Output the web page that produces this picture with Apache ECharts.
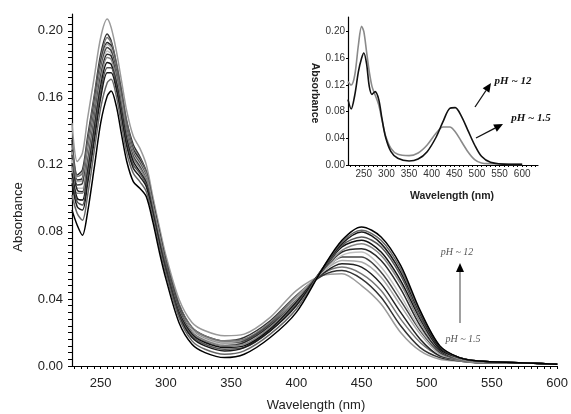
<!DOCTYPE html>
<html><head><meta charset="utf-8">
<script src="https://cdn.jsdelivr.net/npm/echarts@6/dist/echarts.min.js"></script>
<style>html,body{margin:0;padding:0;background:#fff}#c{width:571px;height:414px}</style>
</head><body><div id="c"></div>
<script>
// ---------- main chart data (wavelength in nm, absorbance) ----------
const wavelengths = [228,232,236,240,245,250,255,258,262,266,270,275,280,285,290,295,300,310,320,330,345,360,380,400,420,435,450,465,480,495,510,525,540,570,600];
const curve01 = [.145,.122,.127,.148,.172,.196,.207,.202,.188,.170,.152,.137,.130,.120,.101,.083,.066,.040,.026,.021,.018,.019,.029,.045,.054,.055,.048,.037,.020,.009,.004,.003,.002,.002,.001];
const curve02 = [.135,.114,.117,.137,.161,.186,.198,.194,.181,.164,.146,.132,.125,.116,.098,.080,.063,.037,.023,.018,.015,.017,.027,.042,.054,.057,.052,.041,.024,.011,.005,.003,.002,.002,.001];
const curve03 = [.132,.113,.115,.134,.159,.183,.196,.193,.180,.162,.145,.130,.124,.115,.097,.079,.063,.037,.023,.018,.015,.016,.026,.042,.055,.059,.055,.045,.028,.014,.006,.003,.002,.002,.001];
const curve04 = [.129,.111,.112,.131,.156,.181,.193,.191,.178,.160,.143,.129,.123,.114,.097,.079,.062,.036,.022,.017,.014,.015,.025,.041,.055,.061,.059,.049,.032,.016,.006,.004,.002,.002,.001];
const curve05 = [.128,.110,.111,.130,.154,.179,.192,.190,.177,.159,.142,.128,.122,.114,.096,.078,.061,.035,.022,.017,.014,.015,.025,.041,.056,.063,.062,.053,.036,.019,.007,.004,.002,.002,.001];
const curve06 = [.126,.108,.109,.127,.152,.177,.190,.188,.176,.158,.141,.127,.121,.113,.095,.077,.061,.035,.021,.016,.013,.015,.025,.040,.056,.065,.065,.056,.039,.021,.008,.004,.002,.002,.001];
const curve07 = [.123,.106,.106,.125,.149,.175,.188,.186,.174,.157,.139,.126,.120,.112,.095,.077,.060,.034,.021,.016,.013,.014,.024,.040,.056,.066,.068,.059,.042,.022,.009,.004,.002,.002,.001];
const curve08 = [.121,.105,.104,.122,.147,.173,.186,.185,.173,.155,.138,.125,.119,.111,.094,.076,.060,.034,.020,.015,.012,.014,.024,.039,.057,.068,.070,.063,.046,.024,.009,.004,.002,.002,.001];
const curve09 = [.119,.103,.103,.120,.145,.171,.184,.183,.172,.154,.137,.124,.118,.111,.094,.076,.059,.033,.020,.015,.012,.013,.023,.039,.057,.069,.073,.066,.049,.026,.010,.004,.002,.002,.001];
const curve10 = [.115,.100,.099,.116,.141,.167,.181,.180,.169,.152,.135,.122,.116,.109,.092,.074,.058,.032,.019,.014,.011,.012,.022,.038,.057,.071,.075,.068,.051,.028,.010,.005,.003,.002,.001];
const curve11 = [.112,.098,.096,.113,.138,.164,.178,.178,.167,.150,.133,.120,.115,.108,.092,.074,.057,.031,.018,.013,.010,.011,.021,.037,.057,.072,.077,.071,.054,.029,.011,.005,.003,.002,.001];
const curve12 = [.109,.095,.093,.109,.134,.160,.175,.175,.165,.148,.131,.118,.113,.107,.091,.073,.056,.030,.017,.012,.009,.011,.021,.036,.058,.073,.080,.073,.056,.031,.011,.005,.003,.002,.001];
const curve13 = [.102,.091,.087,.102,.128,.154,.169,.171,.161,.144,.127,.115,.110,.104,.089,.071,.055,.029,.015,.010,.007,.009,.019,.034,.058,.074,.081,.075,.058,.032,.012,.005,.003,.002,.001];
const curve14 = [.093,.084,.078,.092,.118,.145,.161,.164,.155,.138,.122,.110,.106,.101,.086,.068,.052,.026,.013,.008,.005,.007,.017,.032,.058,.075,.083,.077,.060,.033,.012,.005,.003,.002,.001];
const mainCurves = [curve01,curve02,curve03,curve04,curve05,curve06,curve07,curve08,curve09,curve10,curve11,curve12,curve13,curve14];
const lineColors = ['#9a9a9a','#333333','#777777','#222222','#aaaaaa','#444444','#c0c0c0','#2a2a2a','#888888','#111111','#555555','#1a1a1a','#666666','#000000'];

// ---------- inset data ----------
const insetWave = [215,222,230,238,245,250,256,262,268,275,283,290,298,310,325,350,370,390,410,425,440,452,465,480,495,510,530,570,600];
const insetAcid = [.125,.120,.135,.180,.208,.200,.170,.140,.118,.105,.090,.068,.044,.025,.016,.014,.018,.030,.048,.057,.057,.050,.036,.020,.008,.003,.002,.001,.001];
const insetBase = [.098,.084,.105,.140,.160,.168,.152,.118,.106,.110,.098,.070,.042,.020,.010,.006,.009,.020,.042,.065,.085,.086,.074,.052,.030,.013,.004,.001,.001];

// ---------- ticks ----------
const xTickLabels = [250,300,350,400,450,500,550,600];
const yTickLabels = [0,0.04,0.08,0.12,0.16,0.20];
const mainXMinor = []; for (let v = 230; v <= 600; v += 5) mainXMinor.push(v);
const mainYMinor = []; for (let i = 0; i <= 52; i++) mainYMinor.push(+(i*0.004).toFixed(3));
const insetXMinor = []; for (let v = 220; v <= 630; v += 10) insetXMinor.push(v);

const chart = echarts.init(document.getElementById('c'), null, {renderer:'canvas'});
const FONT = 'Liberation Sans, Arial, sans-serif';
const SERIF = 'Liberation Serif, Times New Roman, serif';

const series = mainCurves.map((c, k) => ({
  type:'line', xAxisIndex:0, yAxisIndex:0, showSymbol:false, smooth:0.3,
  data: wavelengths.map((w,i)=>[w,c[i]]),
  lineStyle:{color:lineColors[k], width:1.5}, z: 2, silent:true
}));
series.push({type:'line', xAxisIndex:1, yAxisIndex:1, showSymbol:false, smooth:0.3,
  data: insetWave.map((w,i)=>[w,insetAcid[i]]), lineStyle:{color:'#8a8a8a', width:1.6}});
series.push({type:'line', xAxisIndex:1, yAxisIndex:1, showSymbol:false, smooth:0.3,
  data: insetWave.map((w,i)=>[w,insetBase[i]]), lineStyle:{color:'#111', width:1.6}});

function arrow(x1,y1,x2,y2,shaft,head,len,w,lw){
  const a = Math.atan2(y2-y1,x2-x1);
  const bx = x2-len*Math.cos(a), by = y2-len*Math.sin(a);
  const px = -Math.sin(a)*w/2, py = Math.cos(a)*w/2;
  return [
    {type:'line', shape:{x1:x1,y1:y1,x2:bx,y2:by}, style:{stroke:shaft, lineWidth:lw}},
    {type:'polygon', shape:{points:[[x2,y2],[bx+px,by+py],[bx-px,by-py]]}, style:{fill:head}}
  ];
}

const graphics = [
  {type:'text', x:18, y:217, rotation:Math.PI/2, style:{text:'Absorbance', font:'13px '+FONT, fill:'#222', align:'center', verticalAlign:'middle'}},
  {type:'text', x:316, y:405, style:{text:'Wavelength (nm)', font:'13px '+FONT, fill:'#222', align:'center', verticalAlign:'middle'}},
  {type:'text', x:315, y:93, rotation:-Math.PI/2, style:{text:'Absorbance', font:'bold 10.5px '+FONT, fill:'#222', align:'center', verticalAlign:'middle'}},
  {type:'text', x:452, y:196, style:{text:'Wavelength (nm)', font:'bold 10.5px '+FONT, fill:'#222', align:'center', verticalAlign:'middle'}},
  {type:'text', x:457, y:252, style:{text:'pH ~ 12', font:'italic 10px '+SERIF, fill:'#555', align:'center', verticalAlign:'middle'}},
  {type:'text', x:463, y:339, style:{text:'pH ~ 1.5', font:'italic 10px '+SERIF, fill:'#555', align:'center', verticalAlign:'middle'}},
  {type:'text', x:513, y:81, style:{text:'pH ~ 12', font:'italic bold 11px '+SERIF, fill:'#111', align:'center', verticalAlign:'middle'}},
  {type:'text', x:531, y:118, style:{text:'pH ~ 1.5', font:'italic bold 11px '+SERIF, fill:'#111', align:'center', verticalAlign:'middle'}}
].concat(arrow(460,323,460,263,'#888','#000',9,8,1.6))
 .concat(arrow(475,107,491,83,'#111','#000',9,8,1.3))
 .concat(arrow(476,138,503,124,'#111','#000',9,8,1.3));

chart.setOption({
  animation:false,
  backgroundColor:'#fff',
  grid:[
    {left:72, top:14, right:13, bottom:48},
    {left:348, top:17, width:190, height:148}
  ],
  xAxis:[
    {type:'value', gridIndex:0, min:228, max:600,
     axisLine:{show:true, onZero:false, lineStyle:{color:'#000', width:1.2}},
     axisTick:{show:true, customValues:mainXMinor, length:3, lineStyle:{color:'#000'}},
     axisLabel:{show:true, customValues:xTickLabels, fontSize:13, color:'#222', fontFamily:FONT, margin:11},
     splitLine:{show:false}},
    {type:'value', gridIndex:1, min:215, max:635,
     axisLine:{show:true, onZero:false, lineStyle:{color:'#000', width:1.2}},
     axisTick:{show:true, customValues:insetXMinor, length:2, lineStyle:{color:'#000'}},
     axisLabel:{show:true, customValues:xTickLabels, fontSize:10, color:'#333', fontFamily:FONT, margin:4},
     splitLine:{show:false}}
  ],
  yAxis:[
    {type:'value', gridIndex:0, min:0, max:0.21,
     axisLine:{show:true, lineStyle:{color:'#000', width:1.2}},
     axisTick:{show:true, customValues:mainYMinor, length:4, lineStyle:{color:'#000'}},
     axisLabel:{show:true, customValues:yTickLabels, fontSize:13, color:'#222', fontFamily:FONT, margin:9,
       formatter:v=>v.toFixed(2)},
     splitLine:{show:false}},
    {type:'value', gridIndex:1, min:0, max:0.222,
     axisLine:{show:true, lineStyle:{color:'#000', width:1.2}},
     axisTick:{show:true, customValues:yTickLabels, length:2, lineStyle:{color:'#000'}},
     axisLabel:{show:true, customValues:yTickLabels, fontSize:10, color:'#333', fontFamily:FONT, margin:3,
       formatter:v=>v.toFixed(2)},
     splitLine:{show:false}}
  ],
  series: series,
  graphic: graphics
});
</script></body></html>
